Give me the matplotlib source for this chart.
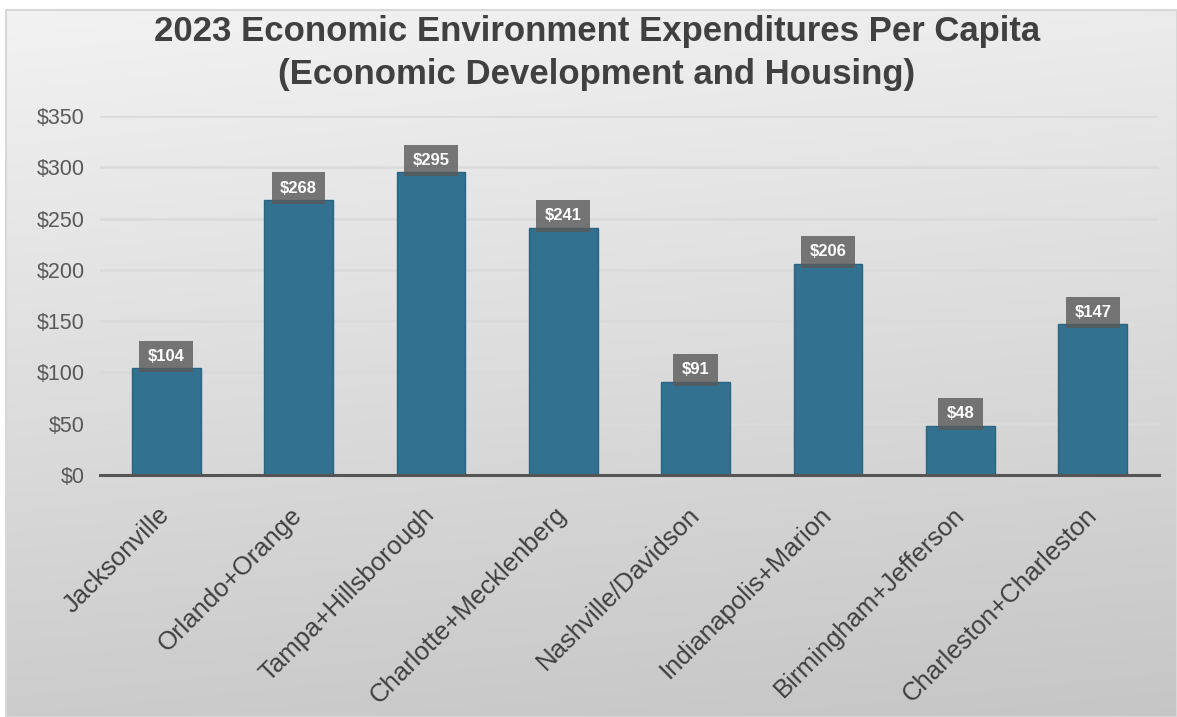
import numpy as np
import matplotlib
matplotlib.use("Agg")
import matplotlib.pyplot as plt

# Data
categories = ["Jacksonville", "Orlando+Orange", "Tampa+Hillsborough", "Charlotte+Mecklenberg",
              "Nashville/Davidson", "Indianapolis+Marion", "Birmingham+Jefferson", "Charleston+Charleston"]
values = [104, 268, 295, 241, 91, 206, 48, 147]
yticks = [0, 50, 100, 150, 200, 250, 300, 350]
ytick_labels = ["$0", "$50", "$100", "$150", "$200", "$250", "$300", "$350"]
title = "2023 Economic Environment Expenditures Per Capita\n(Economic Development and Housing)"

plt.rcParams["font.family"] = ["Liberation Sans", "DejaVu Sans"]

W, H = 1177, 717
fig = plt.figure(figsize=(W / 100, H / 100), dpi=100)
fig.patch.set_facecolor("white")

# Gradient panel behind the chart
bg = fig.add_axes([6 / W, 0, 1 - 6 / W, 1 - 10 / H], zorder=-10)
yy, xx = np.mgrid[0:1:200j, 0:1:300j]
shade = 0.95 - 0.15 * yy - 0.025 * xx
bg.imshow(np.dstack([shade] * 3), aspect="auto", extent=[0, 1, 1, 0], interpolation="bilinear")
bg.set_xlim(0, 1)
bg.set_ylim(1, 0)
bg.set_xticks([])
bg.set_yticks([])
for s in bg.spines.values():
    s.set_color("#d8d8d8")
    s.set_linewidth(1.5)

ax = fig.add_axes([100 / W, (H - 475) / H, (1159 - 100) / W, (475 - 116) / H])
ax.set_facecolor("none")

x = np.arange(len(categories))
bars = ax.bar(x, values, width=0.52, color="#32718f", edgecolor="#2a6482", linewidth=1, zorder=3)

for xi, v in zip(x, values):
    ax.annotate(f"${v}", xy=(xi, v), xytext=(0, 8.5), textcoords="offset points",
                ha="center", va="center", color="white", fontsize=12, fontweight="bold",
                zorder=5,
                bbox=dict(boxstyle="square,pad=0.5", fc="#595959", ec="none", alpha=0.8))

ax.set_xlim(-0.5, len(categories) - 0.5)
ax.set_ylim(0, 350)
ax.set_yticks(yticks)
ax.set_yticklabels(ytick_labels, color="#595959", fontsize=15.5)
ax.set_xticks(x)
ax.set_xticklabels(categories, rotation=45, ha="right", va="center", rotation_mode="anchor",
                   color="#404040", fontsize=18.5)
ax.tick_params(axis="both", length=0)
ax.tick_params(axis="y", pad=11)
ax.tick_params(axis="x", pad=26)

ax.grid(axis="y", color="#dadada", linewidth=1.8, zorder=0)
ax.set_axisbelow(True)
for side in ["top", "right", "left"]:
    ax.spines[side].set_visible(False)
ax.spines["bottom"].set_color("#555555")
ax.spines["bottom"].set_linewidth(2.2)
ax.spines["bottom"].set_zorder(4)

fig.text(597 / W, 1 - 53 / H, title, ha="center", va="center", fontsize=25,
         fontweight="bold", color="#404040", linespacing=1.35)

fig.savefig("out.png", dpi=100)
